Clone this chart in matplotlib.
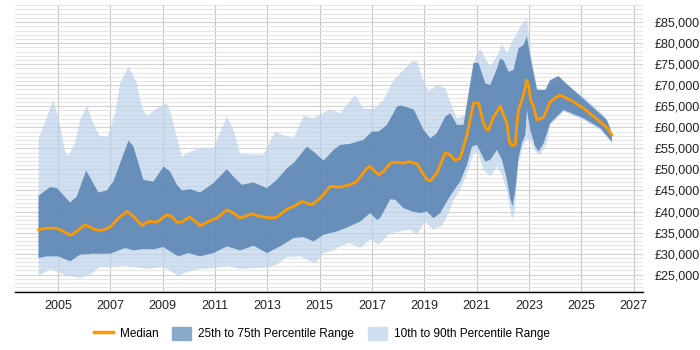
import matplotlib
matplotlib.use("Agg")
import matplotlib.pyplot as plt
from matplotlib.lines import Line2D
from matplotlib.patches import Patch
from matplotlib.ticker import MultipleLocator, FuncFormatter

plt.rcParams['font.family'] = ['Liberation Sans', 'DejaVu Sans']

# 10th percentile (lower edge of light band)
p10_years = [2004.25, 2004.69, 2004.95, 2005.33, 2005.84, 2006.22, 2006.61, 2006.99, 2007.56, 2007.88,
             2008.39, 2009.03, 2009.60, 2009.98, 2010.43, 2010.94, 2011.45, 2011.96, 2012.47, 2012.98,
             2013.36, 2013.75, 2014.25, 2014.51, 2014.83, 2015.15, 2015.53, 2015.78, 2016.14, 2016.55,
             2016.93, 2017.25, 2017.70, 2018.08, 2018.46, 2018.72, 2019.03, 2019.35, 2019.67, 2019.93,
             2020.12, 2020.37, 2020.63, 2020.88, 2021.07, 2021.26, 2021.52, 2021.78, 2021.97, 2022.16,
             2022.35, 2022.45, 2022.60, 2022.77, 2022.90, 2023.05, 2023.24, 2023.43, 2023.69, 2023.81,
             2024.32, 2025.09, 2025.73, 2026.17]
p10_vals = [24600, 26350, 25780, 24760, 24210, 25000, 26830, 26700, 27130, 26830,
            26350, 26830, 24760, 25780, 26350, 26500, 27130, 26350, 26500, 26700,
            27370, 29200, 29340, 28560, 27610, 30140, 30760, 31710, 32520, 31330,
            33300, 32110, 34890, 35270, 35670, 34480, 37640, 35670, 36620, 39620,
            42780, 45150, 49110, 53850, 53850, 49900, 48310, 50680, 48710, 44750,
            38040, 39620, 51480, 55420, 57010, 57010, 54230, 53450, 56220, 60570,
            63720, 61750, 59380, 56220]

# 25th percentile
p25_years = [2004.25, 2004.57, 2005.01, 2005.46, 2005.84, 2006.35, 2006.99, 2007.56, 2007.88, 2008.26,
             2008.64, 2009.03, 2009.28, 2009.60, 2009.98, 2010.43, 2010.94, 2011.45, 2011.96, 2012.47,
             2012.98, 2013.49, 2014.00, 2014.38, 2014.76, 2015.15, 2015.66, 2016.14, 2016.55, 2016.93,
             2017.19, 2017.31, 2017.70, 2017.89, 2018.20, 2018.53, 2018.84, 2019.10, 2019.35, 2019.61,
             2019.86, 2020.06, 2020.37, 2020.63, 2020.82, 2021.01, 2021.20, 2021.33, 2021.52, 2021.78,
             2021.97, 2022.16, 2022.28, 2022.37, 2022.48, 2022.60, 2022.73, 2022.86, 2022.92, 2023.05,
             2023.24, 2023.37, 2023.56, 2023.81, 2024.32, 2025.09, 2025.73, 2026.17]
p25_vals = [28960, 29340, 29340, 28150, 29740, 29980, 29980, 31330, 30760, 31090,
            31000, 31570, 30520, 29340, 30140, 29340, 30140, 31710, 30760, 31880,
            30140, 31710, 33700, 33940, 32900, 34480, 35270, 36450, 37640, 39620,
            38040, 38440, 42950, 42780, 40810, 40010, 39620, 40010, 38440, 39620,
            42380, 44370, 47120, 51080, 55420, 55820, 53450, 51860, 52270, 54640,
            52270, 47520, 43190, 41190, 45150, 52670, 56220, 58200, 64120, 59380,
            55420, 54230, 56220, 60970, 64120, 62150, 59780, 56600]

# median
med_years = [2004.25, 2004.57, 2004.95, 2005.20, 2005.49, 2005.71, 2006.03, 2006.41, 2006.67, 2006.99,
             2007.31, 2007.63, 2007.88, 2008.20, 2008.45, 2008.77, 2009.16, 2009.35, 2009.54, 2009.73,
             2010.02, 2010.17, 2010.43, 2010.81, 2011.07, 2011.45, 2011.70, 2011.96, 2012.41, 2012.72,
             2013.17, 2013.36, 2013.75, 2014.00, 2014.32, 2014.70, 2015.02, 2015.40, 2015.78, 2016.14,
             2016.42, 2016.80, 2016.93, 2017.25, 2017.44, 2017.70, 2017.95, 2018.20, 2018.40, 2018.72,
             2019.10, 2019.23, 2019.48, 2019.80, 2019.99, 2020.18, 2020.37, 2020.63, 2020.88, 2021.07,
             2021.26, 2021.39, 2021.45, 2021.65, 2021.90, 2022.03, 2022.16, 2022.25, 2022.35, 2022.48,
             2022.54, 2022.60, 2022.79, 2022.92, 2022.98, 2023.08, 2023.15, 2023.31, 2023.56, 2023.81,
             2024.17, 2024.58, 2025.09, 2025.60, 2025.98, 2026.17]
med_vals = [35670, 36070, 36000, 35270, 34320, 35300, 36860, 35670, 35500, 36310,
            38440, 40010, 38830, 36690, 37640, 37500, 39230, 38820, 37400, 37500,
            38680, 38040, 36620, 37800, 38440, 40410, 39620, 38440, 39460, 38820,
            38440, 38680, 40570, 41190, 42380, 41600, 43190, 45940, 45800, 46340,
            47120, 50300, 50680, 48710, 49500, 51480, 51720, 51480, 51860, 51320,
            47520, 47290, 49110, 54000, 53450, 52100, 52670, 58200, 65710, 65850,
            60970, 59380, 59380, 62530, 65050, 62940, 60970, 56600, 55590, 56000,
            60970, 64120, 67680, 71230, 70050, 66090, 65500, 61750, 62380, 66090,
            67680, 66500, 64520, 61920, 59930, 58200]

# 75th percentile
p75_years = [2004.25, 2004.69, 2004.95, 2005.46, 2005.71, 2006.07, 2006.54, 2006.86, 2007.11, 2007.69,
             2007.88, 2008.26, 2008.64, 2009.03, 2009.28, 2009.54, 2009.73, 2010.05, 2010.43, 2010.94,
             2011.45, 2011.70, 2012.02, 2012.47, 2012.98, 2013.36, 2013.75, 2014.00, 2014.51, 2014.76,
             2015.15, 2015.53, 2015.78, 2016.14, 2016.67, 2017.00, 2017.25, 2017.57, 2017.95, 2018.10,
             2018.59, 2018.97, 2019.23, 2019.48, 2019.80, 2019.99, 2020.25, 2020.50, 2020.69, 2020.88,
             2021.07, 2021.33, 2021.52, 2021.78, 2021.90, 2022.03, 2022.22, 2022.41, 2022.60, 2022.79,
             2022.92, 2023.05, 2023.31, 2023.62, 2023.81, 2024.13, 2024.32, 2025.98, 2026.17]
p75_vals = [43730, 45800, 45560, 42140, 43560, 49730, 44510, 45000, 47120, 56840,
            55420, 47520, 47120, 50680, 49500, 46340, 45000, 45300, 44510, 46740,
            50060, 48300, 46340, 46900, 45560, 47520, 50300, 51480, 55420, 54230,
            52100, 54640, 55820, 56060, 57000, 59000, 59000, 60570, 64900, 65200,
            64290, 59380, 57410, 58600, 62530, 63340, 60570, 60570, 68080, 75340,
            75300, 70450, 70050, 74000, 76370, 75900, 73210, 73600, 78750, 79530,
            81660, 76760, 68860, 68860, 71230, 72180, 71000, 61750, 58600]

# 90th percentile (upper edge of light band)
p90_years = [2004.25, 2004.44, 2004.82, 2005.08, 2005.27, 2005.39, 2005.65, 2005.84, 2006.10, 2006.29,
             2006.58, 2006.89, 2007.18, 2007.37, 2007.69, 2008.01, 2008.20, 2008.39, 2008.77,
             2009.16, 2009.31, 2009.73, 2010.05, 2010.43, 2010.94, 2011.13, 2011.45, 2011.70, 2011.96,
             2012.85, 2013.30, 2013.55, 2014.00, 2014.38, 2014.76, 2015.40, 2015.78, 2016.14, 2016.36,
             2016.67, 2017.06, 2017.44, 2017.82, 2018.20, 2018.53, 2018.72, 2018.91, 2019.16, 2019.48,
             2019.80, 2020.06, 2020.25, 2020.56, 2020.76, 2020.95, 2021.14, 2021.33, 2021.52, 2021.84,
             2021.97, 2022.16, 2022.35, 2022.54, 2022.67, 2022.92, 2023.11, 2023.31, 2023.69, 2024.13,
             2024.32, 2025.09, 2025.86, 2026.11, 2026.17]
p90_vals = [57400, 60200, 66600, 60160, 54230, 53200, 56220, 61750, 65100, 61750,
            58000, 57800, 63340, 70450, 74550, 70450, 64900, 62700, 64500,
            65700, 63300, 53050, 54200, 55200, 55000, 57800, 62500, 59400, 53700,
            53450, 59000, 58200, 57400, 62700, 62150, 64300, 63340, 66100, 67700,
            64500, 64300, 66500, 71200, 73600, 75700, 75600, 72000, 68500, 70050,
            69300, 64900, 62150, 62900, 68900, 76800, 78750, 76400, 74400, 77600,
            79900, 77600, 80300, 82300, 83900, 85900, 76000, 69300, 68900, 72200,
            70600, 67300, 62900, 60200, 57800]

x_ticks = list(range(2005, 2028, 2))

fig = plt.figure(figsize=(7, 3.5), dpi=100)
ax = fig.add_axes([0.0214, 0.166, 0.8972, 0.819])

light = '#bcd3ea'
dark = '#5681b0'
orange = '#ff9900'

# bands drawn as polygons: upper edge then lower edge reversed
ax.fill(p90_years + p10_years[::-1], p90_vals + p10_vals[::-1], color=light, alpha=0.7, lw=0, zorder=1)
ax.fill(p75_years + p25_years[::-1], p75_vals + p25_vals[::-1], color=dark, alpha=0.85, lw=0, zorder=1.5)
ax.plot(med_years, med_vals, color=orange, lw=2, zorder=4)

ax.set_xlim(2003.35, 2027.36)
ax.set_ylim(20900, 89000)
ax.set_xticks(x_ticks)
ax.yaxis.set_major_locator(MultipleLocator(5000))
ax.yaxis.set_minor_locator(MultipleLocator(1000))
ax.yaxis.set_major_formatter(FuncFormatter(lambda v, p: '£{:,.0f}'.format(v)))
ax.yaxis.tick_right()

ax.set_axisbelow(True)
ax.grid(which='minor', axis='y', color='#e6e6e6', lw=0.8, zorder=0)
ax.grid(which='major', axis='y', color='#d2d2d2', lw=0.8, zorder=0)
ax.grid(which='major', axis='x', color='#c4c4c4', lw=0.8, zorder=0)

for s in ['top', 'right', 'left']:
    ax.spines[s].set_visible(False)
ax.spines['bottom'].set_color('black')
ax.spines['bottom'].set_linewidth(1)
ax.spines['bottom'].set_zorder(5)
ax.tick_params(axis='both', which='both', length=0, labelsize=9, colors='#222222')
ax.tick_params(axis='y', pad=8)
ax.tick_params(axis='x', pad=6)

handles = [Line2D([0], [0], color=orange, lw=2.5),
           Patch(color='#89a9cb'),
           Patch(color='#cfdfef')]
labels = ['Median', '25th to 75th Percentile Range', '10th to 90th Percentile Range']
fig.legend(handles, labels, loc='center', bbox_to_anchor=(0.46, 0.047), ncol=3,
           frameon=False, fontsize=8.5, handlelength=1.6, handleheight=1.4,
           columnspacing=1.2, handletextpad=0.6)

fig.savefig('out.png', dpi=100)
